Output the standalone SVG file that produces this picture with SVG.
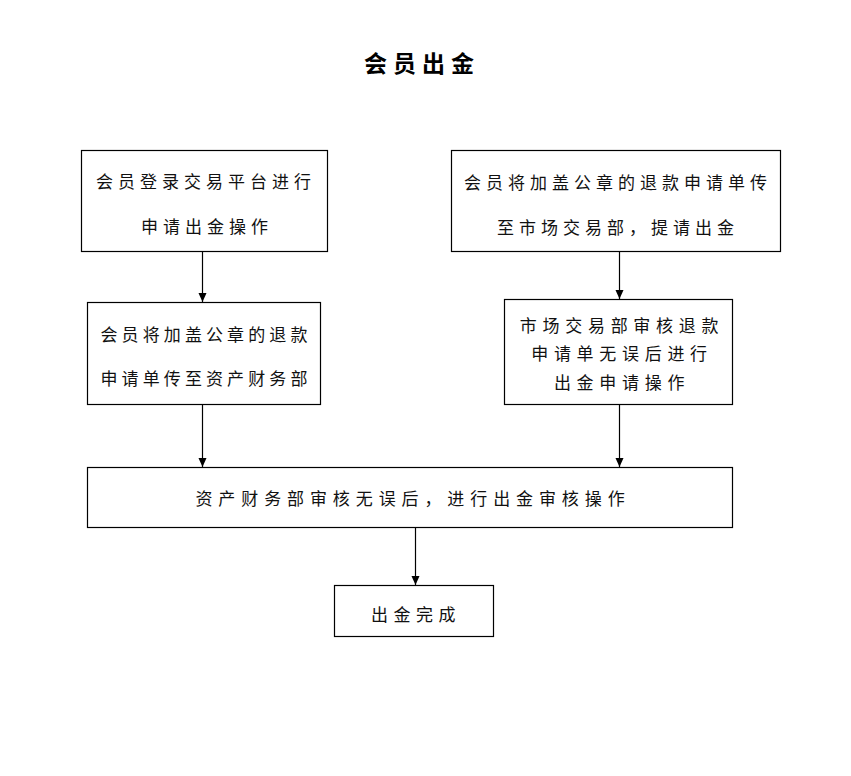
<svg xmlns="http://www.w3.org/2000/svg" width="851" height="776" viewBox="0 0 851 776">
<defs>
<marker id="arr" markerWidth="10" markerHeight="10" refX="9" refY="4" orient="auto" markerUnits="userSpaceOnUse">
<path d="M0,0 L9,4 L0,8 Z" fill="#000"/>
</marker>
<style>
.box{fill:#fff;stroke:#000;stroke-width:1.2}
.t{font-family:"Noto Sans CJK SC","Noto Sans CJK JP",sans-serif;font-size:17px;fill:#111;text-anchor:middle;dominant-baseline:central;letter-spacing:5px}
.title{font-family:"Noto Sans CJK SC","Noto Sans CJK JP",sans-serif;font-size:23px;font-weight:bold;fill:#000;text-anchor:middle;dominant-baseline:central;letter-spacing:6px}
.c{stroke:#000;stroke-width:1.2;fill:none;marker-end:url(#arr)}
</style>
</defs>
<rect width="851" height="776" fill="#fff"/>
<text class="title" x="422" y="62">会员出金</text>
<g id="n1">
<rect class="box" x="81.5" y="150.5" width="246" height="101"/>
<text class="t" x="206" y="180">会员登录交易平台进行</text>
<text class="t" x="207" y="225">申请出金操作</text>
</g>
<g id="n2">
<rect class="box" x="451.5" y="150.5" width="329" height="101"/>
<text class="t" x="618" y="181">会员将加盖公章的退款申请单传</text>
<text class="t" x="618" y="226">至市场交易部，提请出金</text>
</g>
<g id="n3">
<rect class="box" x="87.5" y="302.5" width="233" height="102"/>
<text class="t" x="206" y="333" style="letter-spacing:4.1px">会员将加盖公章的退款</text>
<text class="t" x="206" y="377" style="letter-spacing:4.1px">申请单传至资产财务部</text>
</g>
<g id="n4">
<rect class="box" x="504.5" y="299.5" width="228" height="105"/>
<text class="t" x="622" y="324" style="letter-spacing:5.7px">市场交易部审核退款</text>
<text class="t" x="622" y="352" style="letter-spacing:5.7px">申请单无误后进行</text>
<text class="t" x="622" y="381" style="letter-spacing:5.7px">出金申请操作</text>
</g>
<g id="n5">
<rect class="box" x="87.5" y="467.5" width="645" height="60"/>
<text class="t" x="413" y="497" style="letter-spacing:5.9px">资产财务部审核无误后，进行出金审核操作</text>
</g>
<g id="n6">
<rect class="box" x="334.5" y="585.5" width="159" height="51"/>
<text class="t" x="416" y="613" style="letter-spacing:5.5px">出金完成</text>
</g>
<g id="connectors">
<line class="c" x1="202.5" y1="251.5" x2="202.5" y2="302"/>
<line class="c" x1="619.5" y1="251.5" x2="619.5" y2="299"/>
<line class="c" x1="202.5" y1="404.5" x2="202.5" y2="467"/>
<line class="c" x1="619.5" y1="404.5" x2="619.5" y2="467"/>
<line class="c" x1="415.5" y1="527.5" x2="415.5" y2="585"/>
</g>
</svg>
